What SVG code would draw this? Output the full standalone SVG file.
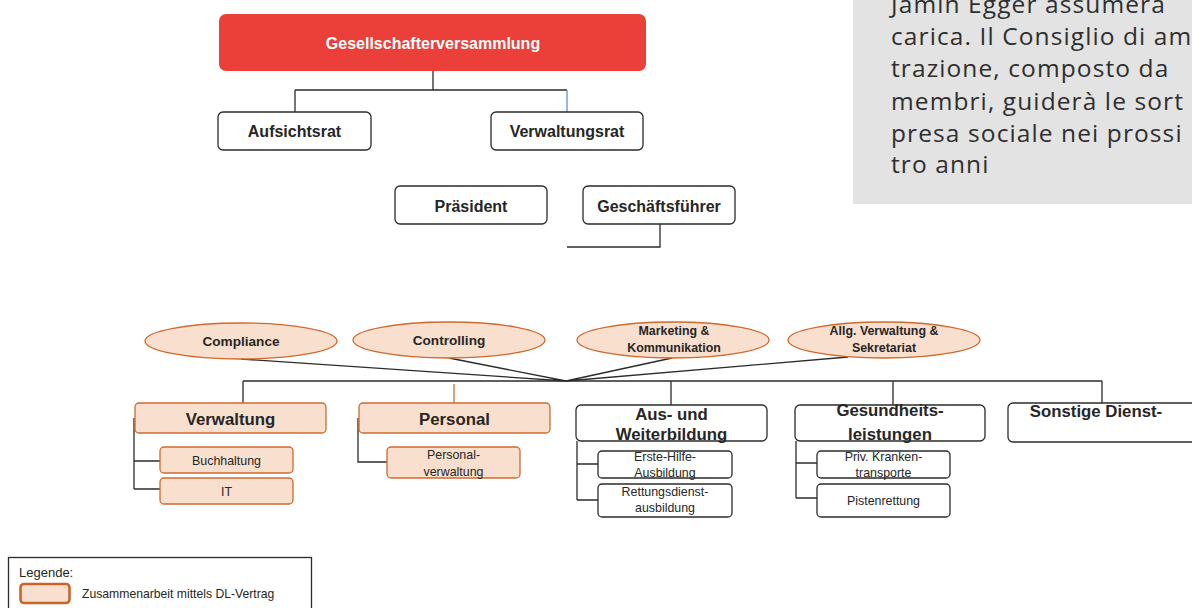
<svg xmlns="http://www.w3.org/2000/svg" width="1192" height="608" viewBox="0 0 1192 608">
<style>
  .bx{fill:#fff;stroke:#2b2b2b;stroke-width:1.3}
  .pe{fill:#F9DFCD;stroke:#CF6A2E;stroke-width:1.3}
  .ln{fill:none;stroke:#2b2b2b;stroke-width:1.3}
  .t{font-family:"Liberation Sans",Arial,sans-serif;fill:#262626;text-anchor:middle}
  .b16{font-size:16px;font-weight:bold}
  .b17{font-size:16.8px;font-weight:bold}
  .b14{font-size:13.6px;font-weight:bold}
  .b12{font-size:12.4px;font-weight:bold}
  .r12{font-size:12.4px}
  .it{font-family:"Open Sans",sans-serif;font-size:24.5px;letter-spacing:1.1px;fill:#2f2f2f}
  .lg{font-family:"Liberation Sans",Arial,sans-serif;fill:#262626}
</style>
<rect x="853" y="0" width="339" height="204" fill="#E3E3E3"/>
<g id="info-text">
  <text class="it" x="891" y="13">Jamin Egger assumerà</text>
  <text class="it" x="891" y="45">carica. Il Consiglio di am</text>
  <text class="it" x="891" y="77">trazione, composto da</text>
  <text class="it" x="891" y="110">membri, guiderà le sort</text>
  <text class="it" x="891" y="142">presa sociale nei prossi</text>
  <text class="it" x="891" y="173">tro anni</text>
</g>
<g id="connectors">
  <path class="ln" d="M433 71V90M295 90H567M295 90V112"/>
  <path d="M567 90V112" fill="none" stroke="#6A8FCB" stroke-width="1.3"/>
  <path class="ln" d="M660 224V247H567"/>
  <path class="ln" d="M241 359L566 381M449 358L566 381M672 358L566 381M848 357L566 381"/>
  <path class="ln" d="M243 381H1102M243 381V404M671 381V405M893 381V405M1102 381V403"/>
  <path d="M454 384V404" fill="none" stroke="#CF6A2E" stroke-width="1.3"/>
  <path class="ln" d="M134 418V489M134 461H160M134 489H160"/>
  <path class="ln" d="M358 418V462H387"/>
  <path class="ln" d="M577 441V500M577 464H598M577 500H598"/>
  <path class="ln" d="M796 441V498M796 463H817M796 498H817"/>
</g>
<g id="gesellschafterversammlung">
  <rect x="219" y="14" width="427" height="57" rx="7" fill="#EA4039"/>
  <text class="t b16" x="433" y="49" style="fill:#fff">Gesellschafterversammlung</text>
</g>
<g id="aufsichtsrat">
  <rect class="bx" x="218" y="112" width="153" height="38" rx="5"/>
  <text class="t b16" x="294.5" y="137">Aufsichtsrat</text>
</g>
<g id="verwaltungsrat">
  <rect class="bx" x="491" y="112" width="152" height="38" rx="5"/>
  <text class="t b16" x="567" y="137">Verwaltungsrat</text>
</g>
<g id="praesident">
  <rect class="bx" x="395" y="186" width="152" height="38" rx="5"/>
  <text class="t b16" x="471" y="212">Präsident</text>
</g>
<g id="geschaeftsfuehrer">
  <rect class="bx" x="583" y="186" width="152" height="38" rx="5"/>
  <text class="t b16" x="659" y="212">Geschäftsführer</text>
</g>
<g id="compliance">
  <ellipse class="pe" cx="241" cy="341" rx="96" ry="18"/>
  <text class="t b14" x="241" y="346">Compliance</text>
</g>
<g id="controlling">
  <ellipse class="pe" cx="449" cy="340" rx="96" ry="18"/>
  <text class="t b14" x="449" y="345">Controlling</text>
</g>
<g id="marketing">
  <ellipse class="pe" cx="673" cy="340" rx="96" ry="18"/>
  <text class="t b12" x="674" y="335">Marketing &amp;</text>
  <text class="t b12" x="674" y="352">Kommunikation</text>
</g>
<g id="allg-verwaltung">
  <ellipse class="pe" cx="884" cy="340" rx="96" ry="18"/>
  <text class="t b12" x="884" y="335">Allg. Verwaltung &amp;</text>
  <text class="t b12" x="884" y="352">Sekretariat</text>
</g>
<g id="verwaltung">
  <rect class="pe" x="135" y="403" width="191" height="30" rx="4"/>
  <text class="t b17" x="230.5" y="425">Verwaltung</text>
</g>
<g id="buchhaltung">
  <rect class="pe" x="160" y="447" width="133" height="26" rx="4"/>
  <text class="t r12" x="226.5" y="465">Buchhaltung</text>
</g>
<g id="it">
  <rect class="pe" x="160" y="478" width="133" height="26" rx="4"/>
  <text class="t r12" x="226.5" y="496">IT</text>
</g>
<g id="personal">
  <rect class="pe" x="359" y="403" width="191" height="30" rx="4"/>
  <text class="t b17" x="454.5" y="425">Personal</text>
</g>
<g id="personalverwaltung">
  <rect class="pe" x="387" y="447" width="133" height="31" rx="4"/>
  <text class="t r12" x="453.5" y="459">Personal-</text>
  <text class="t r12" x="453.5" y="476">verwaltung</text>
</g>
<g id="aus-weiterbildung">
  <rect class="bx" x="576" y="405" width="191" height="36" rx="5"/>
  <text class="t b17" x="671.5" y="420">Aus- und</text>
  <text class="t b17" x="671.5" y="440">Weiterbildung</text>
</g>
<g id="erste-hilfe">
  <rect class="bx" x="598" y="451" width="134" height="27" rx="4"/>
  <text class="t r12" x="665" y="461">Erste-Hilfe-</text>
  <text class="t r12" x="665" y="477">Ausbildung</text>
</g>
<g id="rettungsdienst">
  <rect class="bx" x="598" y="484" width="134" height="33" rx="4"/>
  <text class="t r12" x="665" y="496">Rettungsdienst-</text>
  <text class="t r12" x="665" y="512">ausbildung</text>
</g>
<g id="gesundheitsleistungen">
  <rect class="bx" x="795" y="405" width="190" height="36" rx="5"/>
  <text class="t b17" x="890" y="416">Gesundheits-</text>
  <text class="t b17" x="890" y="440">leistungen</text>
</g>
<g id="krankentransporte">
  <rect class="bx" x="817" y="451" width="133" height="27" rx="4"/>
  <text class="t r12" x="883.5" y="461">Priv. Kranken-</text>
  <text class="t r12" x="883.5" y="477">transporte</text>
</g>
<g id="pistenrettung">
  <rect class="bx" x="817" y="484" width="133" height="33" rx="4"/>
  <text class="t r12" x="883.5" y="505">Pistenrettung</text>
</g>
<g id="sonstige">
  <rect class="bx" x="1008" y="403" width="200" height="39" rx="5"/>
  <text class="t b17" x="1096" y="417">Sonstige Dienst-</text>
</g>
<g id="legende">
  <rect x="8.5" y="557.5" width="303" height="60" fill="#fff" stroke="#2b2b2b" stroke-width="1.3"/>
  <text class="lg" x="19" y="577" font-size="13">Legende:</text>
  <rect x="20.5" y="584" width="49" height="19" rx="3.5" fill="#F9DFCD" stroke="#C8652A" stroke-width="2.6"/>
  <text class="lg" x="82" y="598" font-size="12.2">Zusammenarbeit mittels DL-Vertrag</text>
</g>
</svg>
